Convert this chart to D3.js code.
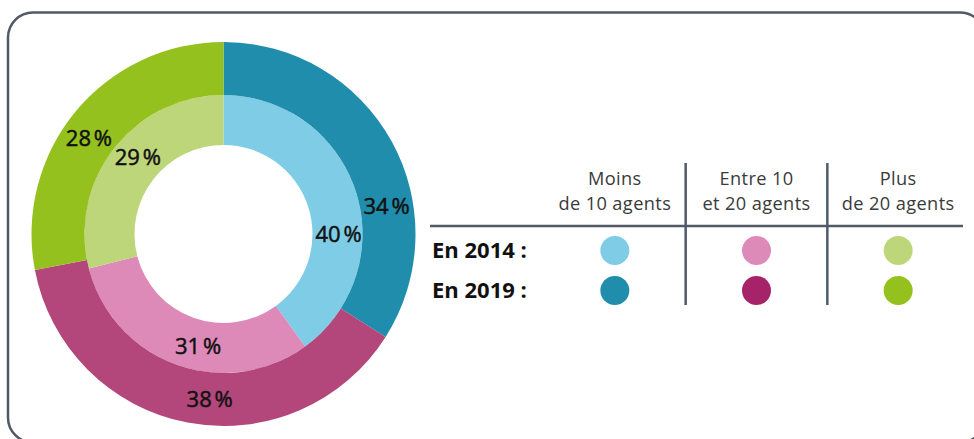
<!DOCTYPE html>
<html>
<head>
<meta charset="utf-8">
<script src="https://cdn.jsdelivr.net/npm/d3@7"></script>
<style>
  body { margin: 0; background: #fff; }
  svg { display: block; font-family: "Open Sans", "Noto Sans", sans-serif; }
</style>
</head>
<body>
<svg id="chart"></svg>
<script>
// Data
const categories = ["Moins de 10 agents", "Entre 10 et 20 agents", "Plus de 20 agents"];
const headerTop = ["Moins", "Entre 10", "Plus"];
const headerBottom = ["de 10 agents", "et 20 agents", "de 20 agents"];
const years = ["2014", "2019"];
const rowLabels = ["En 2014 :", "En 2019 :"];
const values2014 = [40, 31, 29];
const values2019 = [34, 38, 28];

// Colours
const colors2014 = ["#7ecce5", "#de8ab8", "#bed67a"];
const colors2019 = ["#208dad", "#b3467b", "#95c11f"];
const legendColors2019 = ["#208dad", "#a6236a", "#95c11f"];

// label angle nudges (degrees) so the text sits where the original has it
const labelShift2014 = [18, -7, 4];
const labelShift2019 = [19, -6, -4];

const width = 974;
const height = 439;

const svg = d3.select('#chart')
    .attr('width', width)
    .attr('height', height);

// frame
svg.append('rect')
    .attr('x', 8)
    .attr('y', 12.5)
    .attr('width', 977)
    .attr('height', 430)
    .attr('rx', 25)
    .attr('fill', 'none')
    .attr('stroke', '#525a68')
    .attr('stroke-width', 2.5);

// DONUT
const cx = 223.5, cy = 234;
const rHole = 89, rMid = 139, rOuter = 192;

const pie = d3.pie().sort(null).value(d => d);
const innerArc = d3.arc().innerRadius(rHole).outerRadius(rMid);
const outerArc = d3.arc().innerRadius(rMid).outerRadius(rOuter);

const donut = svg.append('g')
    .attr('transform', `translate(${cx}, ${cy})`);

const rings = [
    { values: values2014, colors: colors2014, arc: innerArc, r: 115, shift: labelShift2014 },
    { values: values2019, colors: colors2019, arc: outerArc, r: 165.5, shift: labelShift2019 }
];

rings.forEach(ring => {
    const slices = pie(ring.values);

    donut.append('g')
        .selectAll('path')
        .data(slices)
        .enter()
        .append('path')
        .attr('d', ring.arc)
        .attr('fill', (d, i) => ring.colors[i]);

    donut.append('g')
        .selectAll('text')
        .data(slices)
        .enter()
        .append('text')
        .attr('x', (d, i) => {
            const a = (d.startAngle + d.endAngle) / 2 + ring.shift[i] * Math.PI / 180;
            return ring.r * Math.sin(a);
        })
        .attr('y', (d, i) => {
            const a = (d.startAngle + d.endAngle) / 2 + ring.shift[i] * Math.PI / 180;
            return -ring.r * Math.cos(a);
        })
        .attr('dy', '0.36em')
        .attr('text-anchor', 'middle')
        .attr('font-size', 22)
        .attr('fill', '#111')
        .attr('stroke', '#111')
        .attr('stroke-width', 0.5)
        .text(d => d.data + '\u202F%');
});

// LEGEND TABLE
const xCol = d3.scaleBand()
    .domain(categories)
    .range([544, 969]);

const yRow = d3.scalePoint()
    .domain(years)
    .range([250.5, 290.5]);

const legend = svg.append('g');

// header text, two lines per column
[[headerTop, 185], [headerBottom, 210]].forEach(([lines, y]) => {
    legend.append('g')
        .selectAll('text')
        .data(categories)
        .enter()
        .append('text')
        .attr('x', d => xCol(d) + xCol.bandwidth() / 2)
        .attr('y', y)
        .attr('text-anchor', 'middle')
        .attr('font-size', 18.2)
        .attr('letter-spacing', 0.4)
        .attr('fill', '#3a3a3a')
        .text((d, i) => lines[i]);
});

// grid lines
legend.append('line')
    .attr('x1', 430)
    .attr('x2', 963)
    .attr('y1', 226)
    .attr('y2', 226)
    .attr('stroke', '#525a68')
    .attr('stroke-width', 2.5);

legend.append('g')
    .selectAll('line')
    .data(categories.slice(1))
    .enter()
    .append('line')
    .attr('x1', d => xCol(d))
    .attr('x2', d => xCol(d))
    .attr('y1', 163)
    .attr('y2', 305)
    .attr('stroke', '#525a68')
    .attr('stroke-width', 2.5);

// row labels
legend.append('g')
    .selectAll('text')
    .data(years)
    .enter()
    .append('text')
    .attr('x', 432)
    .attr('y', d => yRow(d))
    .attr('dy', '0.36em')
    .attr('font-size', 22)
    .attr('font-weight', 'bold')
    .attr('fill', '#111')
    .text((d, i) => rowLabels[i]);

// dots
const dotRows = [
    { year: "2014", colors: colors2014 },
    { year: "2019", colors: legendColors2019 }
];

dotRows.forEach(row => {
    legend.append('g')
        .selectAll('circle')
        .data(categories)
        .enter()
        .append('circle')
        .attr('cx', d => xCol(d) + xCol.bandwidth() / 2)
        .attr('cy', yRow(row.year))
        .attr('r', 14.5)
        .attr('fill', (d, i) => row.colors[i]);
});
</script>
</body>
</html>
